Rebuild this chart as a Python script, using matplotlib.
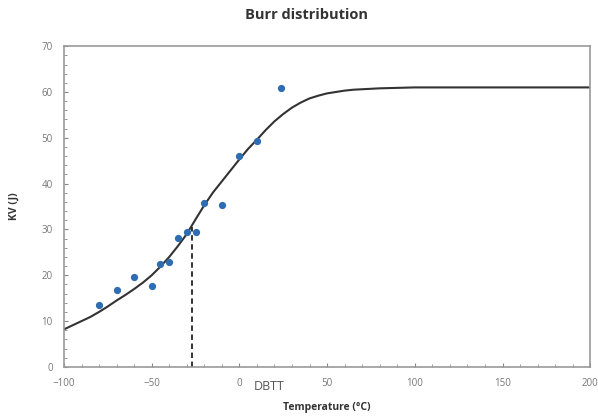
import matplotlib.pyplot as plt
from matplotlib.ticker import MultipleLocator

# measured Charpy points
temp = [-80, -70, -60, -50, -45, -40, -35, -30, -25, -20, -10, 0, 10, 24]
kv = [13.5, 16.8, 19.7, 17.7, 22.5, 23.0, 28.1, 29.4, 29.4, 35.8, 35.3, 46.0, 49.2, 60.9]

# fitted Burr curve
fit_t = [-100, -95, -90, -85, -80, -75, -70, -65, -60, -55, -50, -45, -40, -35, -30,
         -25, -20, -15, -10, -5, 0, 5, 10, 15, 20, 25, 30, 35, 40, 45, 50, 55, 60,
         65, 70, 80, 90, 100, 120, 140, 160, 180, 200]
fit_kv = [8.2, 9.1, 10.0, 10.9, 12.0, 13.2, 14.5, 15.7, 17.0, 18.4, 20.0, 21.9, 24.0,
          26.4, 29.0, 32.2, 35.3, 38.1, 40.5, 42.9, 45.3, 47.6, 49.6, 51.7, 53.6, 55.2,
          56.6, 57.7, 58.6, 59.2, 59.7, 60.0, 60.3, 60.5, 60.6, 60.8, 60.9, 61.0, 61.0,
          61.0, 61.0, 61.0, 61.0]

dbtt = -27
dbtt_kv = 30.6

plt.rcParams['font.family'] = ['Open Sans', 'DejaVu Sans']

fig = plt.figure(figsize=(5.98, 4.16), dpi=100)
ax = fig.add_axes([0.107, 0.118, 0.88, 0.771])

ax.plot(fit_t, fit_kv, color="#333333", lw=1.5, zorder=2)
ax.plot(temp, kv, "o", color="#2f6db3", ms=4.2, zorder=3)
ax.plot([dbtt, dbtt], [0, dbtt_kv], "--", color="#222222", lw=1.3, dashes=(3, 2))

ax.set_xlim(-100, 200)
ax.set_ylim(0, 70)
ax.xaxis.set_major_locator(MultipleLocator(50))
ax.xaxis.set_minor_locator(MultipleLocator(10))
ax.yaxis.set_major_locator(MultipleLocator(10))
ax.yaxis.set_minor_locator(MultipleLocator(2))
ax.tick_params(which="both", direction="in", colors="#888888", labelcolor="#777777",
               labelsize=7)
ax.tick_params(which="major", length=3)
ax.tick_params(which="minor", length=2)
ax.tick_params(axis="x", pad=8)
ax.tick_params(axis="y", pad=8)
for s in ax.spines.values():
    s.set_color("#999999")
    s.set_linewidth(1.2)

ax.text(17, -2.9, "DBTT", ha="center", va="top", fontsize=9, color="#555555")

fig.text(0.512, 0.963, "Burr distribution", ha="center", va="center",
         fontsize=10.5, fontweight="bold", color="#333333")
ax.set_xlabel("Temperature (°C)", fontsize=7.5, fontweight="bold", color="#333333", labelpad=9)
ax.set_ylabel("KV (J)", fontsize=7.5, fontweight="bold", color="#333333", labelpad=16)

fig.savefig("out.png", dpi=100)
